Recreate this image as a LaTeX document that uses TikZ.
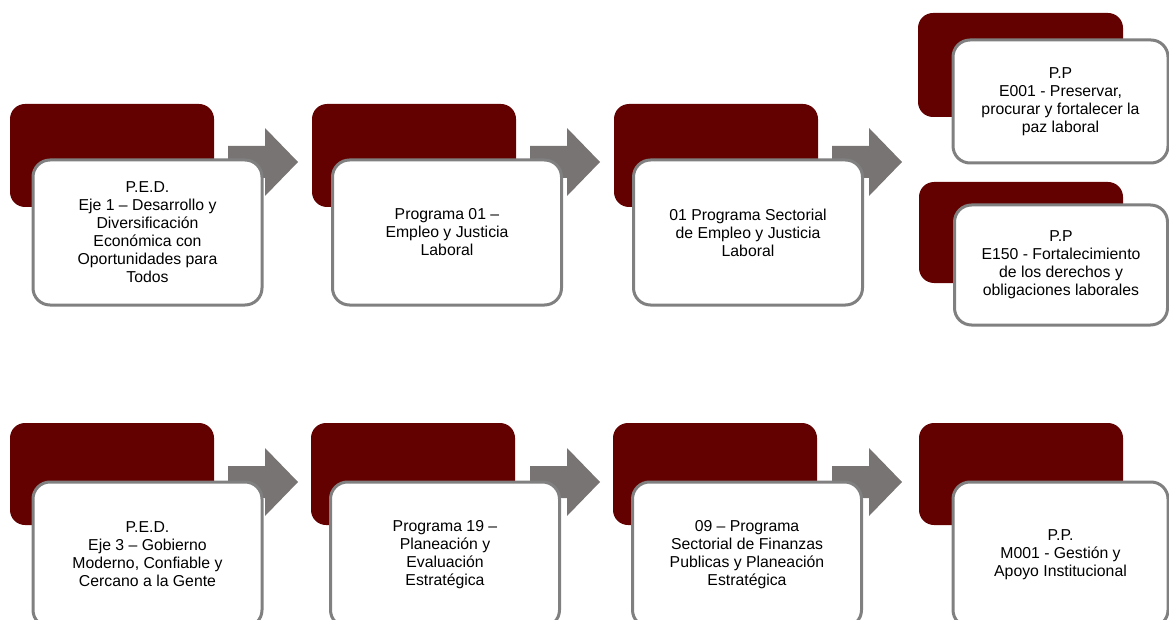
\documentclass[tikz,border=0pt]{standalone}
\usepackage{fontspec}
\setmainfont{Liberation Sans}
\definecolor{darkred}{HTML}{630000}
\definecolor{boxgray}{HTML}{808080}
\definecolor{arrowgray}{HTML}{787473}
\tikzset{
  darkbox/.style={fill=darkred, draw=none, rounded corners=15pt, inner sep=0pt},
  whitebox/.style={fill=white, draw=boxgray, line width=3pt, rounded corners=17pt, inner sep=0pt,
    align=center, font=\fontsize{15.8}{18}\selectfont},
  blockarrow/.style={fill=arrowgray, draw=none}
}
\newcommand\myarrow[3]{%
  \coordinate (#3) at (#1,#2);
  \fill[blockarrow] (#1,#2-16) -- (#1+37,#2-16) -- (#1+37,#2-34) -- (#1+70,#2)
     -- (#1+37,#2+34) -- (#1+37,#2+16) -- (#1,#2+16) -- cycle;}
\begin{document}
\begin{tikzpicture}[x=1pt,y=-1pt]
\useasboundingbox (0,0) rectangle (1169,620);
\clip (0,0) rectangle (1169,620);
% arrows
\myarrow{228}{162}{a1}
\myarrow{530}{162}{a2}
\myarrow{832}{162}{a3}
\myarrow{228}{482}{a4}
\myarrow{530}{482}{a5}
\myarrow{832}{482}{a6}
% dark boxes
\node[darkbox, minimum width=204pt, minimum height=103pt] (d1) at (112,155.5) {};
\node[darkbox, minimum width=204pt, minimum height=103pt] (d2) at (414,155.5) {};
\node[darkbox, minimum width=204pt, minimum height=103pt] (d3) at (716,155.5) {};
\node[darkbox, minimum width=205pt, minimum height=104pt] (d4) at (1020.5,65) {};
\node[darkbox, minimum width=204pt, minimum height=101pt] (d5) at (1021,232.5) {};
\node[darkbox, minimum width=204pt, minimum height=102pt] (d6) at (112,474) {};
\node[darkbox, minimum width=204pt, minimum height=102pt] (d7) at (413,474) {};
\node[darkbox, minimum width=204pt, minimum height=102pt] (d8) at (715,474) {};
\node[darkbox, minimum width=204pt, minimum height=102pt] (d9) at (1021,474) {};
% white boxes
\node[whitebox, minimum width=229pt, minimum height=145pt] (w1) at (147.5,232.5)
  {P.E.D.\\Eje 1 – Desarrollo y\\Diversificación\\Económica con\\Oportunidades para\\Todos};
\node[whitebox, minimum width=229pt, minimum height=145pt] (w2) at (447,232.5)
  {Programa 01 –\\Empleo y Justicia\\Laboral};
\node[whitebox, minimum width=229pt, minimum height=145pt] (w3) at (748,232.5)
  {01 Programa Sectorial\\de Empleo y Justicia\\Laboral};
\node[whitebox, minimum width=215pt, minimum height=123pt] (w4) at (1060.5,101.5)
  {P.P\\E001 - Preservar,\\procurar y fortalecer la\\paz laboral};
\node[whitebox, minimum width=213pt, minimum height=120pt] (w5) at (1061,265)
  {P.P\\E150 - Fortalecimiento\\de los derechos y\\obligaciones laborales};
\node[whitebox, minimum width=229pt, minimum height=145pt] (w6) at (147.5,554.5)
  {P.E.D.\\Eje 3 – Gobierno\\Moderno, Confiable y\\Cercano a la Gente};
\node[whitebox, minimum width=229pt, minimum height=145pt] (w7) at (445,554.5)
  {Programa 19 –\\Planeación y\\Evaluación\\Estratégica};
\node[whitebox, minimum width=229pt, minimum height=145pt] (w8) at (747,554.5)
  {09 – Programa\\Sectorial de Finanzas\\Publicas y Planeación\\Estratégica};
\node[whitebox, minimum width=215pt, minimum height=145pt] (w9) at (1060.5,554.5)
  {P.P.\\M001 - Gestión y\\Apoyo Institucional};
\end{tikzpicture}
\end{document}
